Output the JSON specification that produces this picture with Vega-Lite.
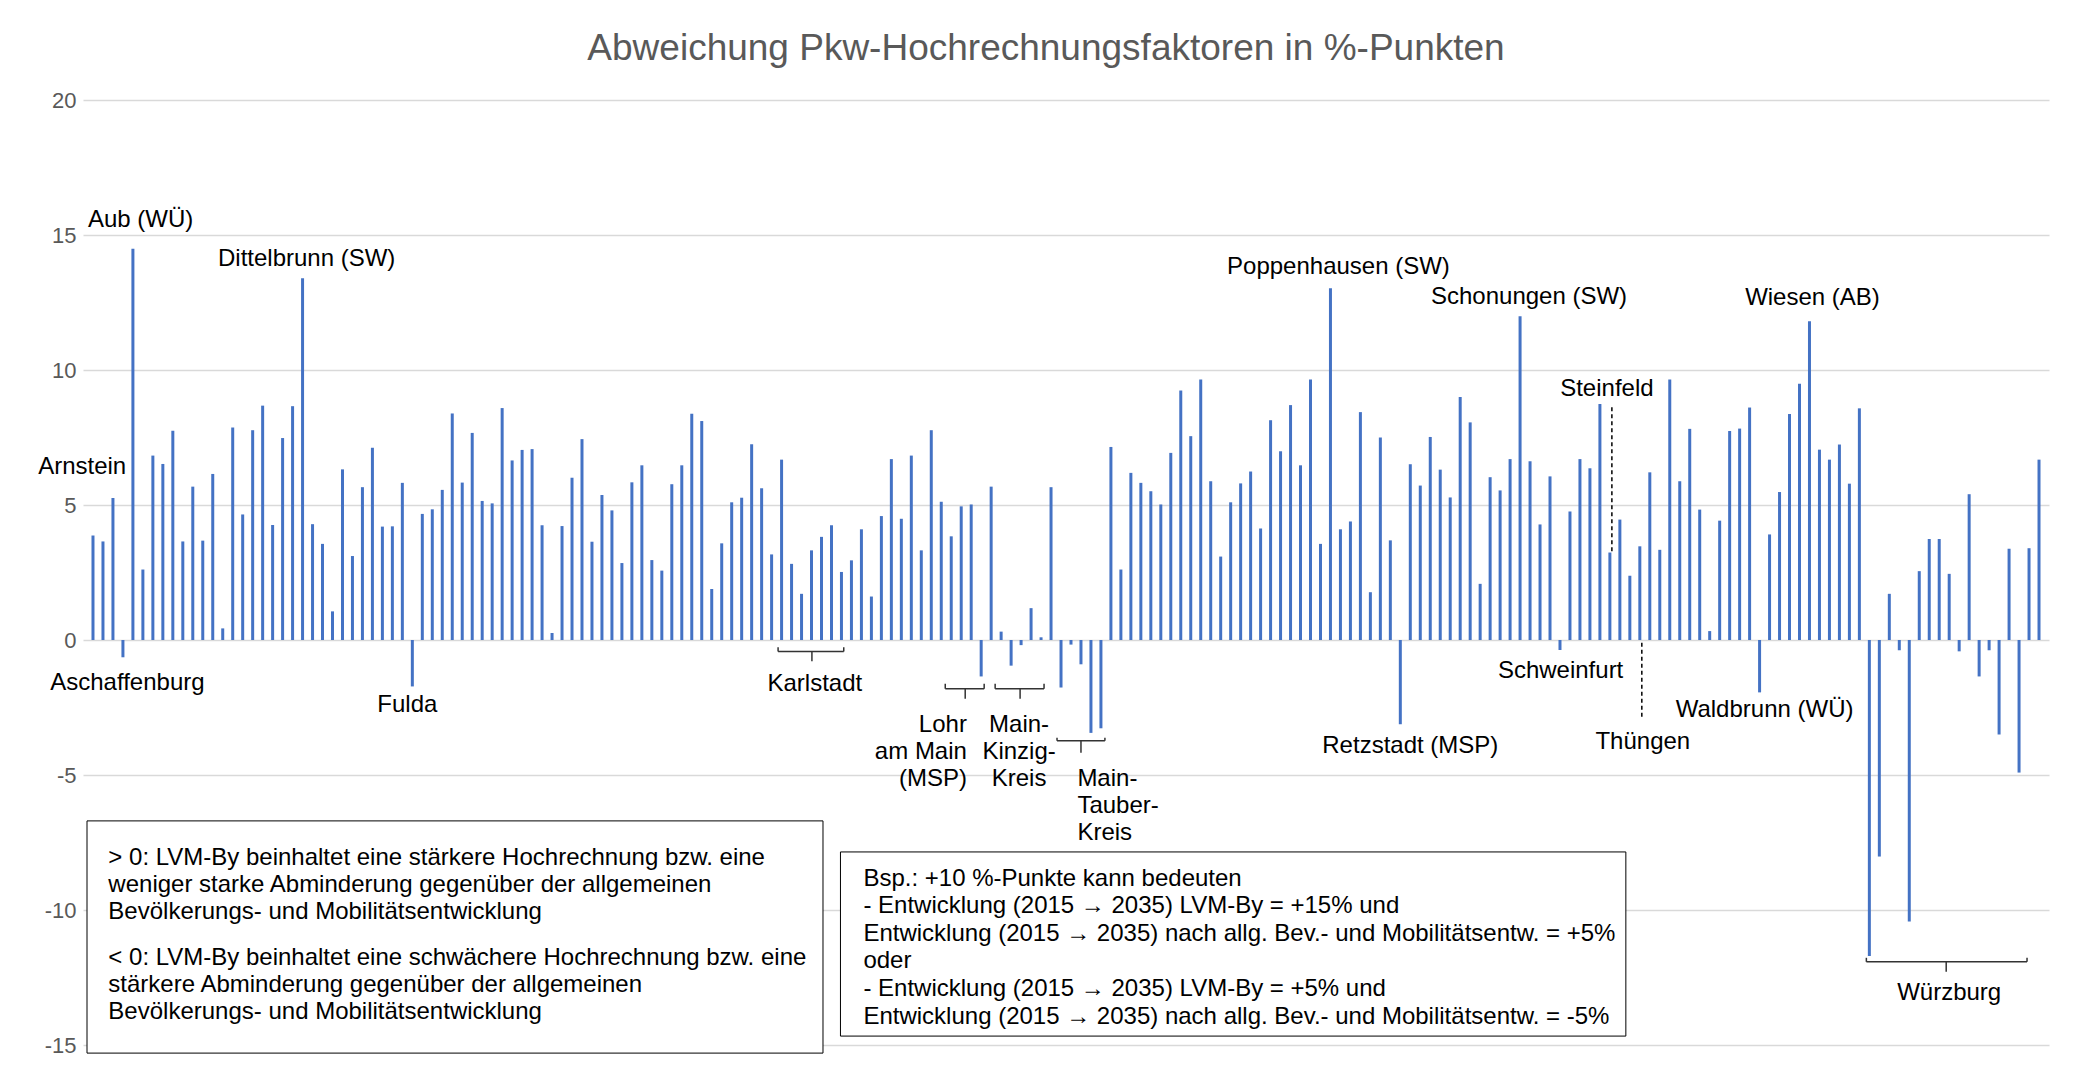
{
  "$schema": "https://vega.github.io/schema/vega-lite/v6.json",
  "autosize": {"type": "none"},
  "width": 1966,
  "height": 945,
  "padding": {"left": 83, "top": 100, "right": 36, "bottom": 27},
  "background": "white",
  "title": {
    "text": "Abweichung Pkw-Hochrechnungsfaktoren in %-Punkten",
    "font": "Liberation Sans",
    "fontSize": 37,
    "fontWeight": "normal",
    "color": "#595959",
    "anchor": "middle",
    "baseline": "alphabetic",
    "offset": 38,
    "dx": -20,
    "dy": 46
  },
  "config": {"view": {"stroke": null}, "font": "Liberation Sans"},
  "encoding": {
    "x": {"field": "x", "type": "quantitative", "scale": {"domain": [0.5, 196.5], "nice": false, "zero": false}, "axis": null},
    "y": {"field": "y", "type": "quantitative", "scale": {"domain": [-15, 20], "nice": false, "zero": false},
      "axis": {"values": [-15, -10, -5, 0, 5, 10, 15, 20], "title": null, "grid": true, "gridColor": "#d9d9d9", "gridWidth": 1.5,
        "domain": false, "ticks": false, "labelColor": "#595959", "labelFontSize": 22, "labelPadding": 7,
        "labelFont": "Liberation Sans", "labelExpr": "'' + datum.value"}}
  },
  "layer": [
    {
      "data": {"values": [
        {"x":1,"y":3.87},{"x":2,"y":3.65},{"x":3,"y":5.26},{"x":4,"y":-0.64},{"x":5,"y":14.49},{"x":6,"y":2.61},{"x":7,"y":6.83},{"x":8,"y":6.52},{"x":9,"y":7.75},{"x":10,"y":3.65},
        {"x":11,"y":5.68},{"x":12,"y":3.68},{"x":13,"y":6.15},{"x":14,"y":0.43},{"x":15,"y":7.87},{"x":16,"y":4.65},{"x":17,"y":7.77},{"x":18,"y":8.68},{"x":19,"y":4.26},{"x":20,"y":7.48},
        {"x":21,"y":8.66},{"x":22,"y":13.40},{"x":23,"y":4.29},{"x":24,"y":3.56},{"x":25,"y":1.06},{"x":26,"y":6.32},{"x":27,"y":3.11},{"x":28,"y":5.66},{"x":29,"y":7.12},{"x":30,"y":4.20},
        {"x":31,"y":4.21},{"x":32,"y":5.82},{"x":33,"y":-1.72},{"x":34,"y":4.67},{"x":35,"y":4.84},{"x":36,"y":5.56},{"x":37,"y":8.39},{"x":38,"y":5.83},{"x":39,"y":7.67},{"x":40,"y":5.15},
        {"x":41,"y":5.06},{"x":42,"y":8.59},{"x":43,"y":6.65},{"x":44,"y":7.04},{"x":45,"y":7.07},{"x":46,"y":4.25},{"x":47,"y":0.26},{"x":48,"y":4.22},{"x":49,"y":6.01},{"x":50,"y":7.44},
        {"x":51,"y":3.64},{"x":52,"y":5.37},{"x":53,"y":4.80},{"x":54,"y":2.85},{"x":55,"y":5.84},{"x":56,"y":6.47},{"x":57,"y":2.96},{"x":58,"y":2.57},{"x":59,"y":5.77},{"x":60,"y":6.47},
        {"x":61,"y":8.38},{"x":62,"y":8.11},{"x":63,"y":1.89},{"x":64,"y":3.58},{"x":65,"y":5.10},{"x":66,"y":5.27},{"x":67,"y":7.25},{"x":68,"y":5.62},{"x":69,"y":3.17},{"x":70,"y":6.68},
        {"x":71,"y":2.82},{"x":72,"y":1.71},{"x":73,"y":3.32},{"x":74,"y":3.82},{"x":75,"y":4.25},{"x":76,"y":2.52},{"x":77,"y":2.95},{"x":78,"y":4.10},{"x":79,"y":1.61},{"x":80,"y":4.59},
        {"x":81,"y":6.70},{"x":82,"y":4.49},{"x":83,"y":6.83},{"x":84,"y":3.32},{"x":85,"y":7.77},{"x":86,"y":5.12},{"x":87,"y":3.84},{"x":88,"y":4.95},{"x":89,"y":5.02},{"x":90,"y":-1.35},
        {"x":91,"y":5.68},{"x":92,"y":0.31},{"x":93,"y":-0.95},{"x":94,"y":-0.19},{"x":95,"y":1.18},{"x":96,"y":0.10},{"x":97,"y":5.66},{"x":98,"y":-1.76},{"x":99,"y":-0.17},{"x":100,"y":-0.90},
        {"x":101,"y":-3.44},{"x":102,"y":-3.27},{"x":103,"y":7.15},{"x":104,"y":2.61},{"x":105,"y":6.19},{"x":106,"y":5.82},{"x":107,"y":5.51},{"x":108,"y":5.02},{"x":109,"y":6.93},{"x":110,"y":9.24},
        {"x":111,"y":7.55},{"x":112,"y":9.65},{"x":113,"y":5.88},{"x":114,"y":3.09},{"x":115,"y":5.10},{"x":116,"y":5.80},{"x":117,"y":6.24},{"x":118,"y":4.13},{"x":119,"y":8.14},{"x":120,"y":6.99},
        {"x":121,"y":8.70},{"x":122,"y":6.47},{"x":123,"y":9.65},{"x":124,"y":3.56},{"x":125,"y":13.03},{"x":126,"y":4.10},{"x":127,"y":4.39},{"x":128,"y":8.44},{"x":129,"y":1.77},{"x":130,"y":7.50},
        {"x":131,"y":3.69},{"x":132,"y":-3.12},{"x":133,"y":6.51},{"x":134,"y":5.72},{"x":135,"y":7.52},{"x":136,"y":6.31},{"x":137,"y":5.28},{"x":138,"y":9.00},{"x":139,"y":8.06},{"x":140,"y":2.08},
        {"x":141,"y":6.03},{"x":142,"y":5.54},{"x":143,"y":6.70},{"x":144,"y":11.99},{"x":145,"y":6.62},{"x":146,"y":4.28},{"x":147,"y":6.06},{"x":148,"y":-0.37},{"x":149,"y":4.76},{"x":150,"y":6.70},
        {"x":151,"y":6.36},{"x":152,"y":8.74},{"x":153,"y":3.24},{"x":154,"y":4.46},{"x":155,"y":2.38},{"x":156,"y":3.47},{"x":157,"y":6.21},{"x":158,"y":3.34},{"x":159,"y":9.65},{"x":160,"y":5.88},
        {"x":161,"y":7.82},{"x":162,"y":4.83},{"x":163,"y":0.33},{"x":164,"y":4.42},{"x":165,"y":7.74},{"x":166,"y":7.83},{"x":167,"y":8.61},{"x":168,"y":-1.94},{"x":169,"y":3.91},{"x":170,"y":5.48},
        {"x":171,"y":8.37},{"x":172,"y":9.49},{"x":173,"y":11.81},{"x":174,"y":7.05},{"x":175,"y":6.68},{"x":176,"y":7.24},{"x":177,"y":5.79},{"x":178,"y":8.58},{"x":179,"y":-11.70},{"x":180,"y":-8.02},
        {"x":181,"y":1.71},{"x":182,"y":-0.38},{"x":183,"y":-10.43},{"x":184,"y":2.55},{"x":185,"y":3.74},{"x":186,"y":3.74},{"x":187,"y":2.45},{"x":188,"y":-0.42},{"x":189,"y":5.40},{"x":190,"y":-1.35},
        {"x":191,"y":-0.38},{"x":192,"y":-3.50},{"x":193,"y":3.38},{"x":194,"y":-4.91},{"x":195,"y":3.40},{"x":196,"y":6.68}
      ]},
      "mark": {"type": "bar", "orient": "vertical", "size": 3, "color": "#4472c4"}
    },
    {
      "data": {"values": [
        {"box": "legend", "x": 0.4, "x2": 74.15, "y": -6.7, "y2": -15.3},
        {"box": "example", "x": 75.9, "x2": 154.6, "y": -7.85, "y2": -14.67}
      ]},
      "mark": {"type": "rect", "fill": "white", "stroke": "#000000", "strokeWidth": 1},
      "encoding": {"x2": {"field": "x2"}, "y2": {"field": "y2"}}
    },
    {
      "data": {"values": [
        {"x": 69.65, "x2": 76.23, "y": -0.43, "y2": -0.43},
        {"x": 69.65, "x2": 69.65, "y": -0.43, "y2": -0.27},
        {"x": 76.23, "x2": 76.23, "y": -0.43, "y2": -0.27},
        {"x": 73.04, "x2": 73.04, "y": -0.43, "y2": -0.79},
        {"x": 86.4, "x2": 90.3, "y": -1.81, "y2": -1.81},
        {"x": 86.4, "x2": 86.4, "y": -1.81, "y2": -1.62},
        {"x": 90.3, "x2": 90.3, "y": -1.81, "y2": -1.62},
        {"x": 88.4, "x2": 88.4, "y": -1.81, "y2": -2.18},
        {"x": 91.4, "x2": 96.3, "y": -1.81, "y2": -1.81},
        {"x": 91.4, "x2": 91.4, "y": -1.81, "y2": -1.62},
        {"x": 96.3, "x2": 96.3, "y": -1.81, "y2": -1.62},
        {"x": 93.9, "x2": 93.9, "y": -1.81, "y2": -2.18},
        {"x": 97.6, "x2": 102.4, "y": -3.73, "y2": -3.73},
        {"x": 97.6, "x2": 97.6, "y": -3.73, "y2": -3.62},
        {"x": 102.4, "x2": 102.4, "y": -3.73, "y2": -3.62},
        {"x": 100.0, "x2": 100.0, "y": -3.73, "y2": -4.18},
        {"x": 178.7, "x2": 194.8, "y": -11.92, "y2": -11.92},
        {"x": 178.7, "x2": 178.7, "y": -11.92, "y2": -11.77},
        {"x": 194.8, "x2": 194.8, "y": -11.92, "y2": -11.77},
        {"x": 186.7, "x2": 186.7, "y": -11.92, "y2": -12.29}
      ]},
      "mark": {"type": "rule", "color": "#333333", "strokeWidth": 1.5},
      "encoding": {"x2": {"field": "x2"}, "y2": {"field": "y2"}}
    },
    {
      "data": {"values": [
        {"x": 153.2, "x2": 153.2, "y": 8.62, "y2": 3.24},
        {"x": 156.2, "x2": 156.2, "y": -0.1, "y2": -2.95}
      ]},
      "mark": {"type": "rule", "color": "#000000", "strokeWidth": 1.5, "strokeDash": [4, 3]},
      "encoding": {"x2": {"field": "x2"}, "y2": {"field": "y2"}}
    },
    {
      "data": {"values": [
        {"t": "Aub (WÜ)", "x": 0.5, "y": 15.56},
        {"t": "Main-", "x": 99.64, "y": -5.14},
        {"t": "Tauber-", "x": 99.64, "y": -6.15},
        {"t": "Kreis", "x": 99.64, "y": -7.16},
        {"t": "> 0: LVM-By beinhaltet eine stärkere Hochrechnung bzw. eine", "x": 2.54, "y": -8.09},
        {"t": "weniger starke Abminderung gegenüber der allgemeinen", "x": 2.54, "y": -9.09},
        {"t": "Bevölkerungs- und Mobilitätsentwicklung", "x": 2.54, "y": -10.09},
        {"t": "< 0: LVM-By beinhaltet eine schwächere Hochrechnung bzw. eine", "x": 2.54, "y": -11.79},
        {"t": "stärkere Abminderung gegenüber der allgemeinen", "x": 2.54, "y": -12.79},
        {"t": "Bevölkerungs- und Mobilitätsentwicklung", "x": 2.54, "y": -13.79},
        {"t": "Bsp.: +10 %-Punkte kann bedeuten", "x": 78.2, "y": -8.84},
        {"t": "- Entwicklung (2015 → 2035) LVM-By = +15% und", "x": 78.2, "y": -9.87},
        {"t": "Entwicklung (2015 → 2035) nach allg. Bev.- und Mobilitätsentw. = +5%", "x": 78.2, "y": -10.9},
        {"t": "oder", "x": 78.2, "y": -11.89},
        {"t": "- Entwicklung (2015 → 2035) LVM-By = +5% und", "x": 78.2, "y": -12.93},
        {"t": "Entwicklung (2015 → 2035) nach allg. Bev.- und Mobilitätsentw. = -5%", "x": 78.2, "y": -13.96}
      ]},
      "mark": {"type": "text", "align": "left", "baseline": "middle", "fontSize": 24, "font": "Liberation Sans", "color": "#000000"},
      "encoding": {"text": {"field": "t"}}
    },
    {
      "data": {"values": [
        {"t": "Dittelbrunn (SW)", "x": 22.41, "y": 14.1},
        {"t": "Aschaffenburg", "x": 4.45, "y": -1.6},
        {"t": "Fulda", "x": 32.5, "y": -2.4},
        {"t": "Karlstadt", "x": 73.33, "y": -1.62},
        {"t": "Main-", "x": 93.8, "y": -3.13},
        {"t": "Kinzig-", "x": 93.8, "y": -4.14},
        {"t": "Kreis", "x": 93.8, "y": -5.14},
        {"t": "Poppenhausen (SW)", "x": 125.8, "y": 13.82},
        {"t": "Schonungen (SW)", "x": 144.9, "y": 12.71},
        {"t": "Steinfeld", "x": 152.7, "y": 9.31},
        {"t": "Schweinfurt", "x": 148.06, "y": -1.14},
        {"t": "Retzstadt (MSP)", "x": 133.0, "y": -3.94},
        {"t": "Thüngen", "x": 156.3, "y": -3.76},
        {"t": "Waldbrunn (WÜ)", "x": 168.5, "y": -2.58},
        {"t": "Wiesen (AB)", "x": 173.3, "y": 12.67},
        {"t": "Würzburg", "x": 187.0, "y": -13.06}
      ]},
      "mark": {"type": "text", "align": "center", "baseline": "middle", "fontSize": 24, "font": "Liberation Sans", "color": "#000000"},
      "encoding": {"text": {"field": "t"}}
    },
    {
      "data": {"values": [
        {"t": "Arnstein", "x": 4.33, "y": 6.4},
        {"t": "Lohr", "x": 88.57, "y": -3.13},
        {"t": "am Main", "x": 88.57, "y": -4.14},
        {"t": "(MSP)", "x": 88.57, "y": -5.14}
      ]},
      "mark": {"type": "text", "align": "right", "baseline": "middle", "fontSize": 24, "font": "Liberation Sans", "color": "#000000"},
      "encoding": {"text": {"field": "t"}}
    }
  ]
}
